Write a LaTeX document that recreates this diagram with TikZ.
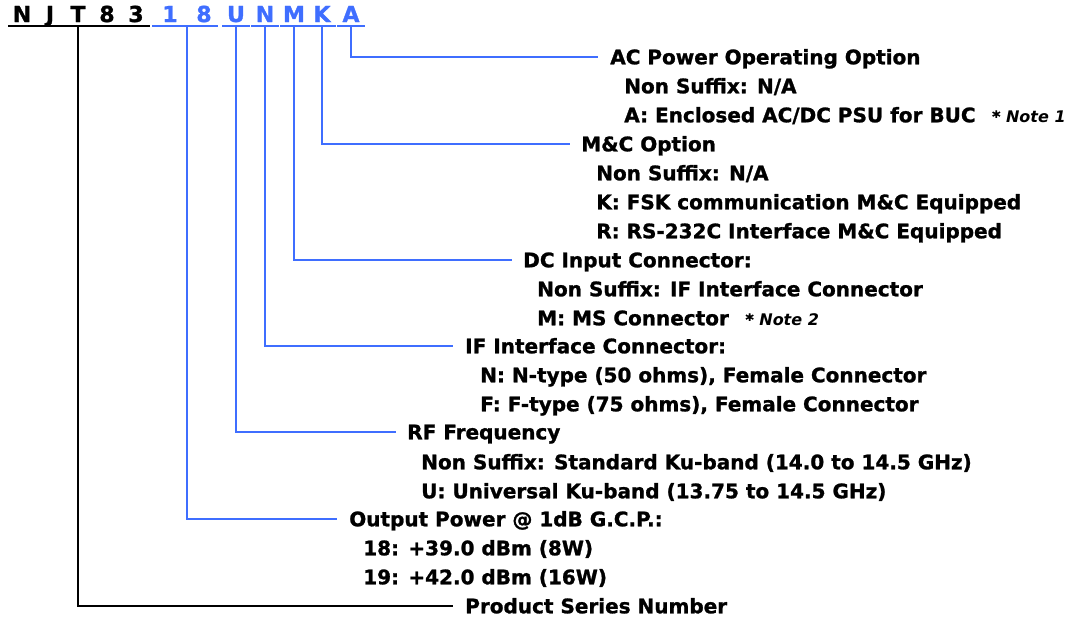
\documentclass[tikz,border=0pt]{standalone}
\usepackage{fontspec}
\setmainfont{DejaVu Sans}[BoldFeatures={FakeBold=1.2}]
\usetikzlibrary{positioning, calc}
\definecolor{codeblue}{HTML}{3F6EFF}

\begin{document}
\begin{tikzpicture}[
    x=0.75pt, y=-0.75pt,
    letter/.style={
        font=\bfseries\fontsize{16.5}{18}\selectfont,
        anchor=base, inner xsep=0pt, inner ysep=3pt,
        text depth=0pt, minimum width=20pt
    },
    head/.style={
        font=\bfseries\fontsize{15}{18}\selectfont,
        anchor=west, inner sep=0pt, text height=10.9pt, text depth=0pt
    },
    item/.style={head},
    note/.style={font=\bfseries\fontsize{12}{14}\selectfont,
        anchor=base west, inner sep=0pt},
    uline/.style={line width=1.6pt},
    link/.style={line width=1.6pt, codeblue},
    blink/.style={line width=1.6pt, black}
]
\useasboundingbox (0,0) rectangle (1073,618);

% --- part number letters ---
\node[letter] (lN) at (22,22) {N};
\node[letter] (lJ) at (50,22) {J};
\node[letter] (lT) at (78,22) {T};
\node[letter] (l8a) at (107,22) {8};
\node[letter] (l3) at (136,22) {3};
\node[letter, codeblue] (l1) at (170,22) {1};
\node[letter, codeblue] (l8) at (204,22) {8};
\node[letter, codeblue] (lU) at (236,22) {U};
\node[letter, codeblue] (lNb) at (265,22) {N};
\node[letter, codeblue] (lM) at (294,22) {M};
\node[letter, codeblue] (lK) at (322,22) {K};
\node[letter, codeblue] (lA) at (351,22) {A};

% --- underlines ---
\draw[uline] (lN.south west) -- (l3.south east);
\draw[uline, codeblue] ([xshift=-3pt]l1.south west) -- (l8.south east);
\foreach \n in {lU, lNb, lM, lK, lA}
    \draw[uline, codeblue] (\n.south west) -- (\n.south east);

% --- AC power ---
\node[head] (hAC) at (610,57) {AC Power Operating Option};
\node[item] (ac1) at ([shift={(14,29)}]hAC.west) {Non Suffix: N/A};
\node[item] (ac2) at ([shift={(0,29)}]ac1.west) {A: Enclosed AC/DC PSU for BUC};
\node[note] (n1) at ([xshift=12pt]ac2.base east) {* \textit{Note 1}};

% --- M&C ---
\node[head] (hMC) at (581,144) {M\&C Option};
\node[item] (mc1) at ([shift={(15,29)}]hMC.west) {Non Suffix: N/A};
\node[item] (mc2) at ([shift={(0,29)}]mc1.west) {K: FSK communication M\&C Equipped};
\node[item] (mc3) at ([shift={(0,29)}]mc2.west) {R: RS-232C Interface M\&C Equipped};

% --- DC input ---
\node[head] (hDC) at (523,260) {DC Input Connector:};
\node[item] (dc1) at ([shift={(14,29)}]hDC.west) {Non Suffix: IF Interface Connector};
\node[item] (dc2) at ([shift={(0,29)}]dc1.west) {M: MS Connector};
\node[note] (n2) at ([xshift=12pt]dc2.base east) {* \textit{Note 2}};

% --- IF interface ---
\node[head] (hIF) at (465,346) {IF Interface Connector:};
\node[item] (if1) at ([shift={(15,29)}]hIF.west) {N: N-type (50 ohms), Female Connector};
\node[item] (if2) at ([shift={(0,29)}]if1.west) {F: F-type (75 ohms), Female Connector};

% --- RF frequency ---
\node[head] (hRF) at (407,432) {RF Frequency};
\node[item] (rf1) at ([shift={(14,30)}]hRF.west) {Non Suffix: Standard Ku-band (14.0 to 14.5 GHz)};
\node[item] (rf2) at ([shift={(0,29)}]rf1.west) {U: Universal Ku-band (13.75 to 14.5 GHz)};

% --- output power ---
\node[head] (hOP) at (349,519) {Output Power @ 1dB G.C.P.:};
\node[item] (op1) at ([shift={(14,29)}]hOP.west) {18: +39.0 dBm (8W)};
\node[item] (op2) at ([shift={(0,29)}]op1.west) {19: +42.0 dBm (16W)};

% --- product series ---
\node[head] (hPS) at (465,606) {Product Series Number};

% --- connectors ---
\draw[link] (lA.south) |- ([xshift=-9pt]hAC.west);
\draw[link] (lK.south) |- ([xshift=-8pt]hMC.west);
\draw[link] (lM.south) |- ([xshift=-8pt]hDC.west);
\draw[link] (lNb.south) |- ([xshift=-9pt]hIF.west);
\draw[link] (lU.south) |- ([xshift=-8pt]hRF.west);
\draw[link] ($(l1.south)!0.5!(l8.south)$) |- ([xshift=-9pt]hOP.west);
\draw[blink] (lT.south) |- ([xshift=-9pt]hPS.west);
\end{tikzpicture}
\end{document}
